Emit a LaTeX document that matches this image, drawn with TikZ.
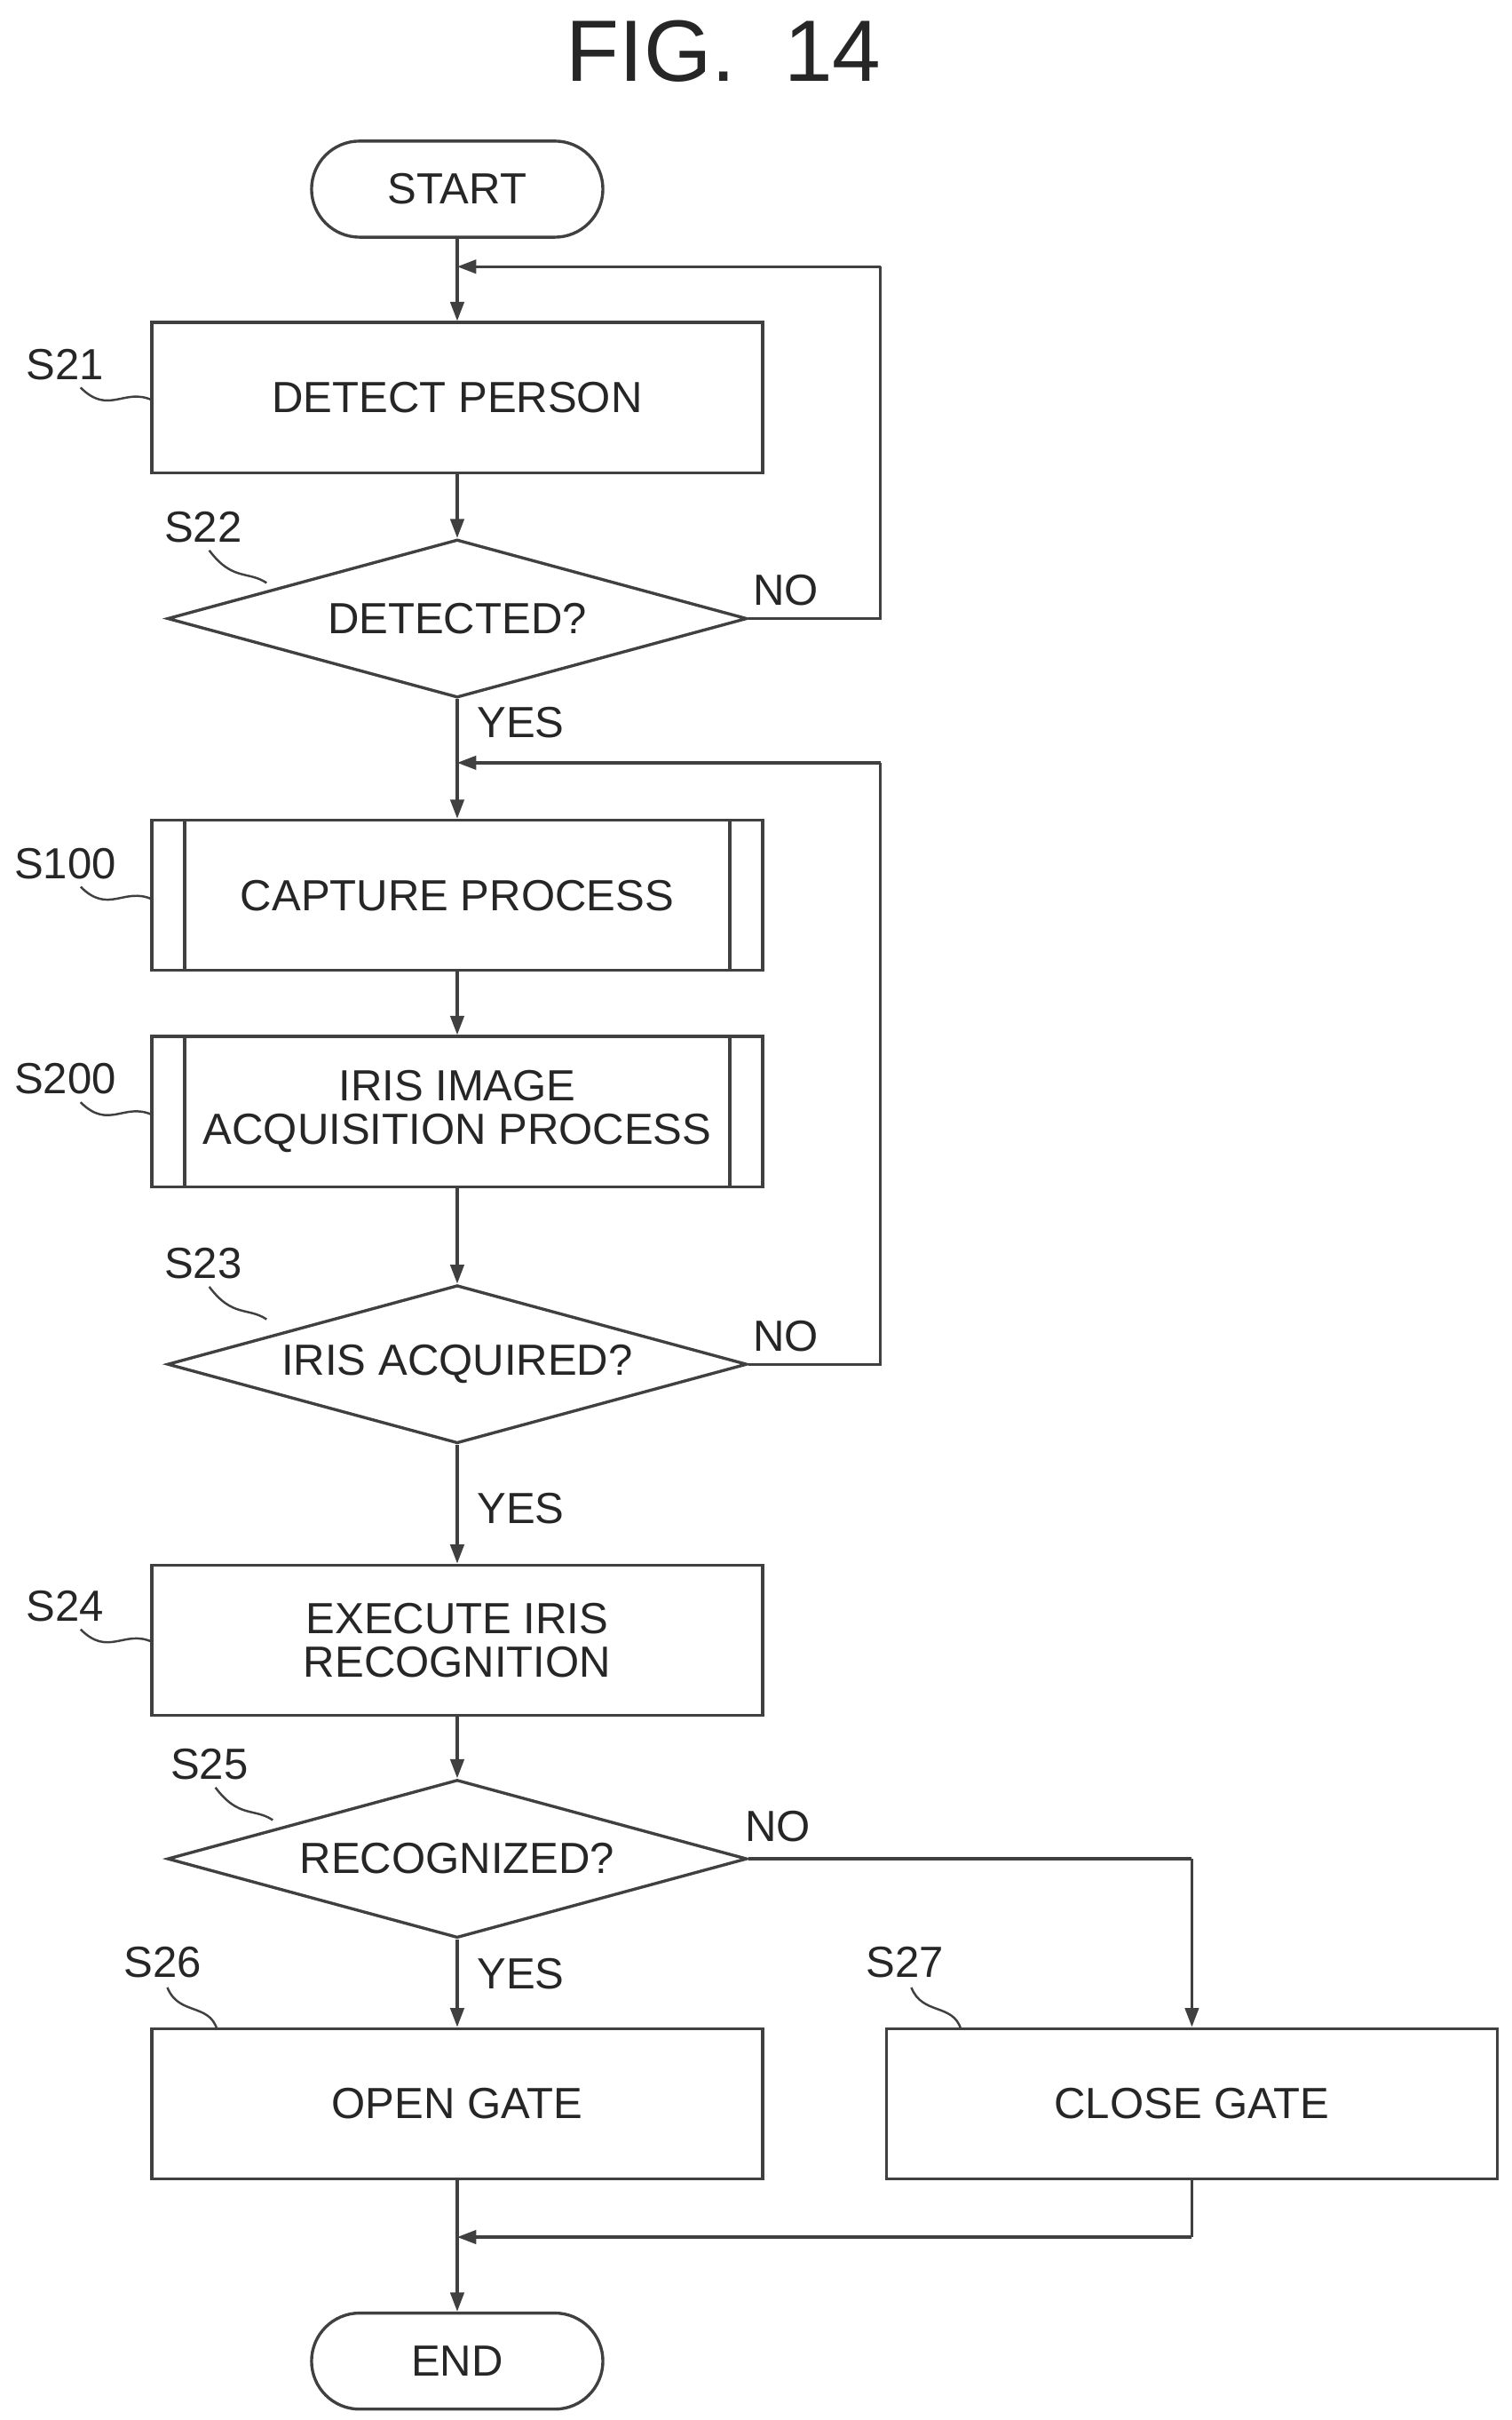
\documentclass[tikz,border=0pt]{standalone}
\usepackage{fontspec}
\setmainfont{Liberation Sans}
\usetikzlibrary{shapes.geometric,arrows.meta}
\begin{document}
\begin{tikzpicture}[x=0.02cm,y=-0.02cm,
  every node/.style={font=\fontsize{16}{19}\selectfont,text=black!85},
  line/.style={draw=black!75,line width=1.1pt},
  arr/.style={line,-{Triangle[length=7pt,width=5pt]}},
  box/.style={line,rectangle,minimum width=7.88cm,minimum height=1.94cm,align=center,inner sep=0},
  term/.style={line,rounded corners=0.62cm,minimum width=3.76cm,minimum height=1.24cm,inner sep=0},
  dia/.style={line,diamond,aspect=3.7,minimum width=7.48cm,minimum height=2.04cm,inner sep=0},
  sq/.style={line,line width=0.8pt}]
\useasboundingbox (0,0) rectangle (975,1561);
\node (title) at (467,33) {\fontsize{32}{36}\selectfont FIG.\ \ 14};
\node[term] (start) at (295,122) {START};
\node[box] (s21) at (295,256.5) {DETECT PERSON};
\node[dia] (s22) at (295,399) {DETECTED?};
\node[box] (s100) at (295,577.5) {CAPTURE PROCESS};
\node[box] (s200) at (295,717) {IRIS IMAGE\\[-3pt]ACQUISITION PROCESS};
\node[dia] (s23) at (295,880) {IRIS ACQUIRED?};
\node[box] (s24) at (295,1058) {EXECUTE IRIS\\[-3pt]RECOGNITION};
\node[dia] (s25) at (295,1199) {RECOGNIZED?};
\node[box] (s26) at (295,1357) {OPEN GATE};
\node[box] (s27) at (769,1357) {CLOSE GATE};
\node[term] (end) at (295,1523) {END};
% double side lines
\foreach \n in {s100,s200}{
  \draw[line] ([xshift=0.44cm]\n.north west) -- ([xshift=0.44cm]\n.south west);
  \draw[line] ([xshift=-0.44cm]\n.north east) -- ([xshift=-0.44cm]\n.south east);}
% coordinates
\coordinate (j1) at (295,172);
\coordinate (r1) at (568,399);
\coordinate (r1t) at (568,172);
\coordinate (j2) at (295,492);
\coordinate (r2) at (568,880);
\coordinate (r2t) at (568,492);
\coordinate (c27) at (769,1199);
\coordinate (j3) at (295,1443);
\coordinate (b27) at (769,1443);
% connectors
\draw[arr] (start) -- (s21);
\draw[arr] (s21) -- (s22);
\draw[line] (s22.east) -- (r1) -- (r1t);
\draw[arr] (r1t) -- (j1);
\draw[arr] (s22) -- (s100);
\draw[line] (s23.east) -- (r2) -- (r2t);
\draw[arr] (r2t) -- (j2);
\draw[arr] (s100) -- (s200);
\draw[arr] (s200) -- (s23);
\draw[arr] (s23) -- (s24);
\draw[arr] (s24) -- (s25);
\draw[line] (s25.east) -- (c27);
\draw[arr] (c27) -- (s27);
\draw[arr] (s25) -- (s26);
\draw[arr] (s26) -- (end);
\draw[line] (s27) -- (b27);
\draw[arr] (b27) -- (j3);
% yes/no
\node (no1) at (507,381) {NO};
\node (yes1) at (336,466) {YES};
\node (no2) at (507,862) {NO};
\node (yes2) at (336,973) {YES};
\node (no3) at (502,1178) {NO};
\node (yes3) at (336,1273) {YES};
% step labels
\node (l21) at (42,235) {S21};
\node (l22) at (131,340) {S22};
\node (l100) at (42,557) {S100};
\node (l200) at (42,696) {S200};
\node (l23) at (131,815) {S23};
\node (l24) at (42,1036) {S24};
\node (l25) at (135,1138) {S25};
\node (l26) at (105,1266) {S26};
\node (l27) at (584,1266) {S27};
\draw[sq] (52,250) .. controls (70,268) and (80,250) .. (98,258);
\draw[sq] (135,355) .. controls (150,375) and (160,368) .. (172,376);
\draw[sq] (52,572) .. controls (70,590) and (80,572) .. (98,580);
\draw[sq] (52,711) .. controls (70,729) and (80,711) .. (98,719);
\draw[sq] (135,830) .. controls (150,850) and (160,843) .. (172,851);
\draw[sq] (52,1051) .. controls (70,1069) and (80,1051) .. (98,1059);
\draw[sq] (139,1153) .. controls (154,1173) and (164,1166) .. (176,1174);
\draw[sq] (108,1282) .. controls (115,1300) and (135,1292) .. (140,1309);
\draw[sq] (588,1282) .. controls (595,1300) and (615,1292) .. (620,1309);
\end{tikzpicture}
\end{document}
